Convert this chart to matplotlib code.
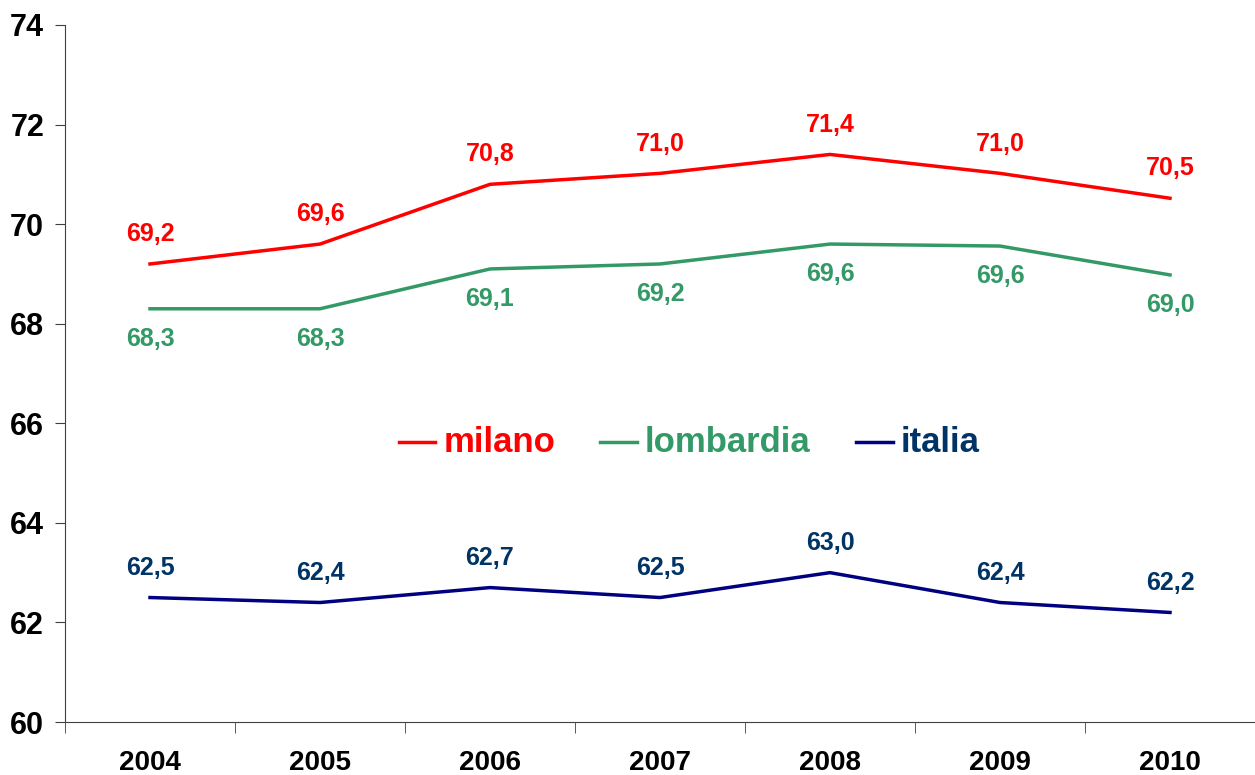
import matplotlib
matplotlib.use('Agg')
import matplotlib.pyplot as plt
import numpy as np

plt.rcParams['font.family'] = ['Liberation Sans', 'DejaVu Sans']
plt.rcParams['font.weight'] = 'bold'

years = ['2004', '2005', '2006', '2007', '2008', '2009', '2010']
milano = [69.2, 69.6, 70.8, 71.02, 71.4, 71.02, 70.52]
lombardia = [68.3, 68.3, 69.1, 69.2, 69.6, 69.56, 68.98]
italia = [62.5, 62.4, 62.7, 62.5, 63.0, 62.4, 62.2]

c_mil = '#ff0000'
c_lom = '#339966'
c_ita_line = '#000080'
c_ita_text = '#003366'

fig = plt.figure(figsize=(12.55, 7.75), dpi=100)
ax = fig.add_axes([65/1255, 53/775, 1 - 65/1255, (722-25)/775])

x = np.arange(len(years))
ax.plot(x, milano, color=c_mil, lw=2.5)
ax.plot(x, lombardia, color=c_lom, lw=2.5)
ax.plot(x, italia, color=c_ita_line, lw=2.5)

def fmt(v):
    return ('%.1f' % v).replace('.', ',')

for i in x:
    ax.annotate(fmt(milano[i]), (i, milano[i]), xytext=(0, 21.5), textcoords='offset points',
                ha='center', va='center', color=c_mil, fontsize=18, fontweight='bold')
    ax.annotate(fmt(lombardia[i]), (i, lombardia[i]), xytext=(0, -21.5), textcoords='offset points',
                ha='center', va='center', color=c_lom, fontsize=18, fontweight='bold')
    ax.annotate(fmt(italia[i]), (i, italia[i]), xytext=(0, 21.5), textcoords='offset points',
                ha='center', va='center', color=c_ita_text, fontsize=18, fontweight='bold')

# legend drawn by hand in data coordinates
leg_names = ['milano', 'lombardia', 'italia']
leg_lines = [c_mil, c_lom, c_ita_line]
leg_texts = [c_mil, c_lom, c_ita_text]
leg_x = [1.462, 2.649, 4.152]
for name, lc, tc, xs in zip(leg_names, leg_lines, leg_texts, leg_x):
    ax.plot([xs, xs + 0.216], [65.62, 65.62], color=lc, lw=2.5)
    ax.text(xs + 0.263, 65.62, name, color=tc, fontsize=25, fontweight='bold', va='center', ha='left')

ax.set_ylim(60, 74)
ax.set_yticks(np.arange(60, 75, 2))
ax.set_xlim(-0.5, 6 + (1255 - 1177) / 171)
ax.set_xticks(x)
ax.set_xticklabels(years)
ax.set_xticks(np.arange(-0.5, 6.6, 1), minor=True)
ax.tick_params(axis='x', which='major', length=0, pad=20, labelsize=20)
ax.tick_params(axis='x', which='minor', length=8, direction='out', color='#404040')
ax.tick_params(axis='y', length=7, direction='out', labelsize=22, color='#404040', pad=8)
for lab in ax.get_xticklabels() + ax.get_yticklabels():
    lab.set_fontweight('bold')

ax.spines['top'].set_visible(False)
ax.spines['right'].set_visible(False)
ax.spines['left'].set_color('#404040')
ax.spines['bottom'].set_color('#404040')

fig.savefig('out.png', dpi=100)
